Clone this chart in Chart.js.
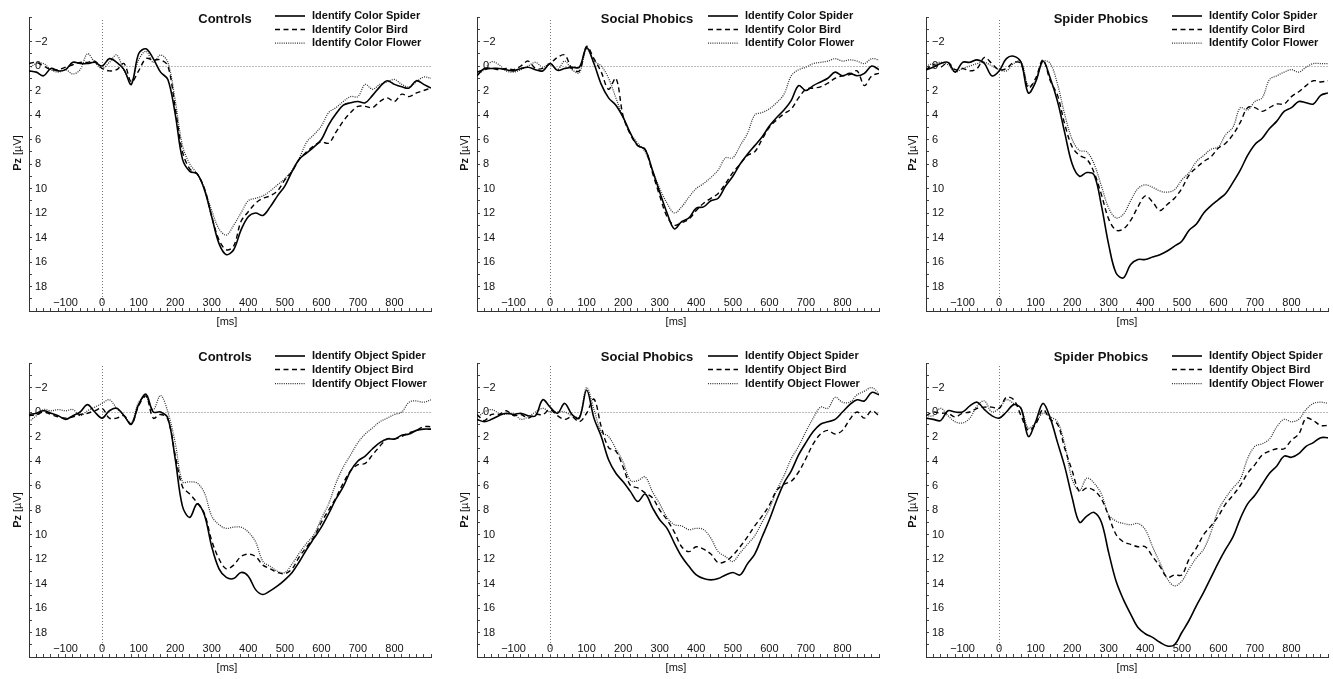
<!DOCTYPE html>
<html><head><meta charset="utf-8">
<script src="https://cdn.jsdelivr.net/npm/chart.js@4/dist/chart.umd.min.js"></script>
<style>
html,body{margin:0;padding:0;background:#fff;overflow:hidden;width:1333px;height:679px;}
canvas{position:absolute;}
</style></head><body>
<canvas id="c0" width="435" height="330"></canvas>
<canvas id="c1" width="435" height="330"></canvas>
<canvas id="c2" width="435" height="330"></canvas>
<canvas id="c3" width="435" height="330"></canvas>
<canvas id="c4" width="435" height="330"></canvas>
<canvas id="c5" width="435" height="330"></canvas>
<script>
// ---- data ----
const timeMs = [-200,-180,-160,-140,-120,-100,-80,-60,-40,-20,0,20,40,60,80,100,120,140,160,180,200,220,240,260,280,300,320,340,360,380,400,420,440,460,480,500,520,540,560,580,600,620,640,660,680,700,720,740,760,780,800,820,840,860,880,900];
const groupTitles = ['Controls','Social Phobics','Spider Phobics'];
const taskNames = ['Color','Object'];
const stimulusNames = ['Spider','Bird','Flower'];

// Identify Color
const colorControlsSpider = [0.4,0.5,0.8,0.2,0.4, 0.3,-0.3,-0.2,-0.2,-0.3, 0.0,-0.6,-0.3,0.3,1.5, -1.0,-1.4,-0.6,0.5,1.1, 3.9,7.6,8.6,8.8,10.1, 12.3,14.5,15.4,15.0,13.4, 12.3,12.0,12.2,11.5,10.6, 9.8,8.6,7.6,7.1,6.6, 6.0,4.8,3.9,3.2,3.0, 2.9,3.0,2.4,1.7,1.2, 1.5,1.7,1.8,1.2,1.5, 1.8];
const colorControlsBird = [-0.2,-0.3,0.0,0.3,0.3, 0.1,-0.1,-0.3,-0.3,-0.4, 0.2,0.4,0.3,-0.2,1.3, 0.4,-0.6,-0.5,-0.5,0.0, 3.4,7.0,8.4,8.8,10.0, 12.3,14.2,15.0,14.7,12.7, 11.9,11.2,10.8,10.6,10.2, 9.3,8.6,7.6,7.0,6.5, 6.2,6.3,5.4,4.5,3.8, 3.3,3.3,3.4,2.9,2.6, 2.9,2.3,2.5,2.2,2.0, 1.8];
const colorControlsFlower = [0.2,-0.2,-0.2,0.3,0.5, 0.3,0.65,0.3,-1.0,-0.3, 0.2,-0.3,-0.9,0.4,1.2, -0.5,-1.2,-0.3,-0.9,-0.3, 2.8,6.5,8.0,8.8,10.0, 11.8,13.3,13.8,13.0,12.0, 11.0,10.8,10.6,10.2,9.7, 9.2,8.5,7.5,6.2,5.6, 4.9,3.8,3.4,2.9,2.5, 2.5,1.5,1.9,1.5,1.3, 1.1,1.5,1.7,1.3,0.9, 1.0];
const colorSocialSpider = [0.8,0.2,0.2,0.2,0.3, 0.4,0.2,0.1,0.3,0.4, -0.2,0.35,0.2,0.1,0.1, -1.5,-0.2,1.5,2.6,3.2, 4.2,5.5,6.5,6.8,8.5, 10.3,12.0,13.3,12.7,12.4, 11.6,11.5,11.0,10.8,9.8, 9.0,8.0,7.2,6.5,5.8, 4.9,4.2,3.6,2.8,1.6, 2.0,1.6,1.3,1.0,0.5, 0.8,0.6,0.8,0.6,0.0, 0.3];
const colorSocialBird = [0.5,0.3,0.2,0.3,0.2, 0.3,0.0,-0.4,0.2,0.2, -0.2,-0.7,-0.9,0.2,0.4, -1.6,-0.6,0.5,1.9,1.0, 4.1,5.6,6.5,6.8,8.7, 10.6,12.3,13.0,12.8,12.5, 11.8,11.2,10.8,10.4,9.6, 8.7,8.0,7.3,7.0,6.0, 5.0,4.4,3.9,3.5,2.6, 1.9,1.8,1.7,1.4,1.0, 0.8,0.7,0.4,1.6,0.8, 0.6];
const colorSocialFlower = [0.7,0.3,-0.35,-0.1,0.4, 0.5,0.3,0.0,-0.3,0.1, -0.2,0.3,-0.4,0.3,0.55, -1.4,-0.4,0.0,1.0,2.6, 4.2,5.5,6.3,7.0,8.5, 10.0,11.2,12.0,11.5,10.7, 10.0,9.6,9.1,8.5,7.5, 7.5,6.5,5.5,4.0,3.8, 3.5,3.0,2.3,0.8,0.3, 0.1,-0.2,-0.3,-0.4,-0.6, -0.4,-0.5,-0.4,-0.2,-0.6, -0.5];
const colorSpiderPhSpider = [0.3,0.1,-0.2,-0.3,0.5, -0.3,-0.3,-0.5,-0.2,0.8, 0.4,-0.6,-0.8,-0.3,2.2, 1.3,-0.4,1.0,2.9,5.5, 8.0,9.0,8.7,8.9,11.4, 14.6,16.9,17.3,16.2,15.8, 15.8,15.6,15.4,15.1,14.7, 14.3,13.4,12.9,12.0,11.4, 10.9,10.4,9.5,8.5,7.3, 6.4,5.9,5.1,4.5,3.7, 3.4,2.9,3.0,3.1,2.4, 2.2];
const colorSpiderPhBird = [0.3,-0.1,0.1,-0.3,0.3, 0.2,0.4,0.2,-0.7,-0.2, 0.3,0.2,-0.3,-0.2,1.8, 1.0,-0.5,1.2,2.4,4.8, 6.6,7.3,7.6,8.7,10.5, 12.5,13.4,13.3,12.6,11.5, 10.6,11.1,11.8,11.3,10.8, 10.0,8.9,8.3,7.8,7.4, 6.7,6.3,5.6,4.6,3.4, 3.4,3.7,3.4,3.1,3.1, 2.5,2.1,1.6,1.2,1.3, 1.2];
const colorSpiderPhFlower = [0.0,-0.2,-0.3,-0.1,0.5, 0.2,0.0,-0.2,-0.3,0.0, 0.3,0.4,-0.2,-0.4,1.6, 1.2,-0.4,-0.2,1.5,4.0, 6.0,6.9,7.0,8.0,9.8, 11.6,12.4,12.1,11.0,10.0, 9.7,9.9,10.2,10.3,10.1, 9.3,8.7,7.8,7.3,6.8, 6.6,5.6,5.0,3.4,3.6, 2.9,2.6,1.1,0.8,0.5, 0.3,0.5,0.1,-0.2,-0.2, -0.2];

// Identify Object
const objectControlsSpider = [0.2,0.1,-0.1,0.1,0.3, 0.6,0.3,0.0,-0.6,0.0, 0.5,-0.1,-0.3,0.3,1.0, -0.6,-1.45,0.0,0.0,0.5, 3.8,7.7,8.6,7.5,8.4, 11.0,12.8,13.5,13.6,13.1, 13.4,14.5,14.9,14.6,14.2, 13.7,13.1,12.2,11.2,10.3, 9.4,8.3,7.1,6.1,4.8, 4.0,3.6,3.0,2.5,2.2, 2.2,1.9,1.8,1.5,1.4, 1.4];
const objectControlsBird = [0.3,0.2,0.0,0.2,0.4, 0.5,0.4,0.2,0.1,-0.1, -0.3,0.5,0.5,0.3,1.0, -0.5,-1.3,0.5,0.2,0.6, 3.5,6.1,6.7,7.4,8.3, 10.5,12.0,12.8,12.5,11.8, 11.6,11.8,12.5,12.8,13.1, 13.2,12.8,11.8,11.0,10.2, 9.0,8.0,7.0,5.8,4.8, 4.3,4.2,3.5,2.8,2.2, 2.2,2.0,1.7,1.5,1.2, 1.2];
const objectControlsFlower = [0.8,0.3,-0.2,-0.1,-0.2, -0.1,-0.2,0.3,-0.1,-0.4, -0.7,-1.0,-0.3,0.3,0.9, -0.8,-1.2,-0.2,-1.35,0.0, 2.5,5.7,5.7,5.8,6.6, 8.5,9.2,9.5,9.4,9.4, 9.8,10.6,12.2,12.6,13.0, 13.1,12.4,11.5,10.7,10.0, 8.7,7.5,5.8,4.5,3.5, 2.5,1.8,1.3,0.8,0.5, 0.2,0.0,-0.8,-0.9,-0.8, -1.0];
const objectSocialSpider = [0.6,0.8,0.6,0.3,0.1, 0.2,0.1,0.3,0.3,-1.0, -0.4,0.1,-0.7,0.2,0.5, -1.8,0.5,2.0,3.9,5.0, 5.7,6.5,7.3,6.7,7.8, 8.8,9.5,10.7,11.8,12.6, 13.3,13.6,13.7,13.6,13.3, 13.1,13.3,12.4,11.6,10.2, 8.8,7.2,5.8,4.8,3.5, 2.5,1.6,1.0,0.8,0.6, 0.0,-0.6,-1.0,-0.9,-1.6, -1.4];
const objectSocialBird = [0.2,0.7,0.2,0.2,-0.1, 0.3,0.2,0.5,0.2,0.2, -0.2,0.3,0.6,0.4,0.8, 0.1,-1.05,1.2,2.9,3.2, 4.5,6.0,6.2,6.6,7.0, 8.0,8.8,9.8,11.0,11.4, 11.0,11.2,11.6,12.3,12.2, 11.7,11.0,10.2,9.3,8.5, 7.6,6.4,5.9,5.65,4.9, 3.8,2.6,1.8,1.5,1.8, 1.5,0.6,0.0,0.5,-0.1, 0.3];
const objectSocialFlower = [0.5,0.0,-0.2,0.1,0.2, 0.1,0.6,0.4,0.0,-0.3, 0.0,0.0,0.0,0.3,0.4, -2.0,-0.2,1.6,2.0,3.0, 4.1,5.6,5.6,5.3,6.5, 7.5,8.6,9.2,9.3,9.6, 9.5,9.6,10.3,11.4,11.8, 12.2,11.5,10.8,10.1,9.0, 7.9,6.4,5.2,3.8,2.8, 1.6,0.5,-0.4,-0.3,-1.2, -0.8,-0.8,-1.4,-1.7,-2.0, -1.5];
const objectSpiderPhSpider = [0.5,0.6,0.7,-0.1,0.0, 0.0,-0.5,-0.8,-0.2,0.3, 0.5,0.0,-0.6,-0.3,2.0, 0.8,-0.7,0.5,2.5,4.5, 7.0,9.0,8.5,8.2,9.0, 11.5,13.8,15.3,16.5,17.6, 18.1,18.4,18.8,19.1,19.0, 18.0,17.0,15.8,14.7,13.5, 12.3,11.2,10.2,8.7,7.5, 6.8,5.9,5.0,4.4,3.6, 3.7,3.4,2.8,2.5,2.1, 2.1];
const objectSpiderPhBird = [0.3,0.0,0.1,0.1,0.4, 0.1,0.0,-0.3,-0.4,-0.4, -0.3,-1.2,-1.0,0.3,1.5, 1.0,-0.2,0.6,1.0,3.0, 4.8,6.5,6.2,6.4,7.1, 8.5,10.0,10.6,10.8,11.0, 11.0,11.8,12.6,13.5,13.3, 13.3,12.0,11.1,10.0,9.3, 8.5,7.5,6.8,6.0,5.0, 4.3,3.5,3.2,3.0,3.0, 2.3,1.8,0.5,0.7,1.1, 1.1];
const objectSpiderPhFlower = [0.3,0.3,-0.3,0.3,0.8, 0.9,0.5,-0.5,-0.9,0.0, -0.3,-1.0,-0.7,-0.3,1.3, 0.9,0.1,0.4,0.8,2.7, 5.5,6.4,5.4,5.8,6.7, 8.4,8.9,9.1,9.2,9.1, 9.6,11.0,12.3,13.6,14.2, 13.8,12.8,11.9,11.2,9.8, 8.0,7.0,6.2,5.5,3.8, 2.8,2.6,2.2,1.2,0.6, 0.8,0.6,-0.2,-0.7,-0.8, -0.7];

// ---- layout & style ----
const FONT = "'Liberation Sans', Arial, Helvetica, sans-serif";
const LINE_STYLES = [
  {color:'#000', width:1.6, dash:[]},
  {color:'#000', width:1.4, dash:[5,3.5]},
  {color:'#333', width:1.25, dash:[1,1.2]}
];
const colLayout = [
  {canvasLeft:0,   titleX:225, legX:275, yTitleX:18, xTitleX:227},
  {canvasLeft:448, titleX:199, legX:260, yTitleX:17, xTitleX:228},
  {canvasLeft:897, titleX:204, legX:275, yTitleX:16, xTitleX:230}
];
const rowLayout = [
  {canvasTop:0,   titleY:19, legY:[16,29.5,43],  yTitleY:153, xTitleY:322},
  {canvasTop:346, titleY:11, legY:[10,23.5,37.5], yTitleY:164, xTitleY:322}
];
const panelSeries = [
  [colorControlsSpider, colorControlsBird, colorControlsFlower],
  [colorSocialSpider, colorSocialBird, colorSocialFlower],
  [colorSpiderPhSpider, colorSpiderPhBird, colorSpiderPhFlower],
  [objectControlsSpider, objectControlsBird, objectControlsFlower],
  [objectSocialSpider, objectSocialBird, objectSocialFlower],
  [objectSpiderPhSpider, objectSpiderPhBird, objectSpiderPhFlower]
];

function fmt(v){ v = Math.round(v); return v < 0 ? '\u2212' + (-v) : String(v); }

function decorPlugin(L, title){
  return {
    id:'decor',
    beforeDatasetsDraw(chart){
      const {ctx, chartArea:a, scales:{x, y}} = chart;
      ctx.save();
      ctx.strokeStyle = '#777'; ctx.lineWidth = 1; ctx.setLineDash([1,2]);
      const x0 = Math.round(x.getPixelForValue(0)) + 0.5;
      const y0 = Math.round(y.getPixelForValue(0)) + 0.5;
      ctx.beginPath();
      ctx.moveTo(x0, y0); ctx.lineTo(a.right, y0);
      ctx.moveTo(x0, a.top + 3); ctx.lineTo(x0, a.bottom);
      ctx.stroke();
      ctx.restore();
    },
    afterDraw(chart){
      const {ctx} = chart;
      ctx.save();
      ctx.fillStyle = '#111';
      ctx.textBaseline = 'middle';
      ctx.font = 'bold 13px ' + FONT;
      ctx.textAlign = 'center';
      ctx.fillText(title, L.titleX, L.titleY);
      ctx.font = 'bold 11px ' + FONT;
      ctx.textAlign = 'left';
      chart.data.datasets.forEach((ds, i) => {
        const yy = L.legY[i];
        ctx.save();
        ctx.strokeStyle = ds.borderColor; ctx.lineWidth = ds.borderWidth;
        ctx.setLineDash(ds.borderDash || []);
        ctx.beginPath(); ctx.moveTo(L.legX, yy); ctx.lineTo(L.legX + 30, yy); ctx.stroke();
        ctx.restore();
        ctx.fillText(ds.label, L.legX + 37, yy);
      });
      ctx.font = '11px ' + FONT;
      ctx.textAlign = 'center';
      ctx.fillText('[ms]', L.xTitleX, L.xTitleY);
      ctx.save();
      ctx.translate(L.yTitleX, L.yTitleY);
      ctx.rotate(-Math.PI / 2);
      ctx.font = 'bold 11px ' + FONT;
      const w1 = ctx.measureText('Pz').width;
      ctx.font = '11px ' + FONT;
      const w2 = ctx.measureText(' [\u00B5V]').width;
      ctx.textAlign = 'left';
      ctx.font = 'bold 11px ' + FONT;
      ctx.fillText('Pz', -(w1 + w2) / 2, 0);
      ctx.font = '11px ' + FONT;
      ctx.fillText(' [\u00B5V]', -(w1 + w2) / 2 + w1, 0);
      ctx.restore();
      ctx.restore();
    }
  };
}

for (let p = 0; p < 6; p++) {
  const row = Math.floor(p / 3), col = p % 3;
  const R = rowLayout[row], C = colLayout[col];
  const L = Object.assign({}, R, C);
  const canvas = document.getElementById('c' + p);
  canvas.style.left = C.canvasLeft + 'px';
  canvas.style.top = R.canvasTop + 'px';
  const datasets = panelSeries[p].map((vals, i) => ({
    label: 'Identify ' + taskNames[row] + ' ' + stimulusNames[i],
    data: vals.map((v, k) => ({x: timeMs[k], y: v})),
    borderColor: LINE_STYLES[i].color,
    borderWidth: LINE_STYLES[i].width,
    borderDash: LINE_STYLES[i].dash,
    pointRadius: 0,
    tension: 0.35,
    fill: false
  }));
  new Chart(canvas, {
    type: 'line',
    data: {datasets},
    options: {
      responsive: false,
      animation: false,
      events: [],
      layout: {padding: {left: 29, top: 17, right: 4, bottom: 19}},
      plugins: {legend: {display: false}, tooltip: {enabled: false}, title: {display: false}},
      scales: {
        x: {
          type: 'linear', min: -200, max: 900,
          afterFit: s => { s.height = 0; },
          border: {display: true, color: '#333', width: 1},
          grid: {display: true, drawOnChartArea: false, drawTicks: true, tickLength: -3, color: '#444', lineWidth: 1},
          ticks: {stepSize: 20, maxTicksLimit: 100, autoSkip: false, maxRotation: 0, minRotation: 0, mirror: true, padding: 1.5,
                  color: '#111', font: {family: FONT, size: 11},
                  callback: v => { const r = Math.round(v); return (r % 100 === 0 && r > -200 && r < 900) ? fmt(r) : ''; }}
        },
        y: {
          type: 'linear', min: -4, max: 20, reverse: true,
          afterFit: s => { s.width = 0; },
          border: {display: true, color: '#333', width: 1},
          grid: {display: true, drawOnChartArea: false, drawTicks: true, tickLength: -3, color: '#444', lineWidth: 1},
          ticks: {stepSize: 1, maxTicksLimit: 100, autoSkip: false, mirror: true, padding: 6,
                  color: '#111', font: {family: FONT, size: 11},
                  callback: v => { const r = Math.round(v); return (r % 2 === 0 && r > -4 && r < 20) ? fmt(r) : ''; }}
        }
      }
    },
    plugins: [decorPlugin(L, groupTitles[col])]
  });
}
</script>
</body></html>
